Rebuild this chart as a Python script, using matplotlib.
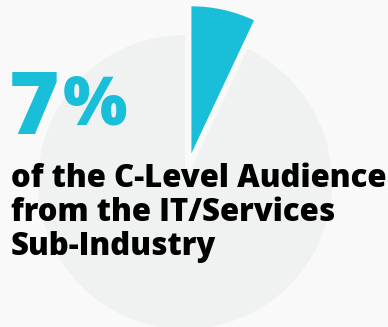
import matplotlib.pyplot as plt

# share of the C-level audience
share = [7, 93]
colors = ['#19bfd8', '#f0f2f2']
big_number = '7'
big_suffix = '%'
caption = ['of the C-Level Audience', 'from the IT/Services', 'Sub-Industry']

W, H = 388, 327
fig = plt.figure(figsize=(W / 100, H / 100), dpi=100, facecolor='#f9f9f9')
ax = fig.add_axes([0, 0, 1, 1])
ax.set_facecolor('#f9f9f9')

# unit-radius pie, the small slice pulled out towards the top
ax.pie(share, colors=colors, startangle=90, counterclock=False,
       explode=[0.2, 0], wedgeprops=dict(linewidth=0), frame=True)
r_px = 147.0
cx, cy = 185.0, 182.0  # pie centre in pixels from top-left
ax.set_xlim(-cx / r_px, (W - cx) / r_px)
ax.set_ylim(-(H - cy) / r_px, cy / r_px)
ax.set_aspect('equal')
ax.axis('off')


def px(x, y):
    return x / W, 1 - y / H


# big percentage, the sign sits a little higher than the digit
ax.text(*px(9, 134), big_number, transform=ax.transAxes, color=colors[0],
        fontsize=62, fontweight='heavy', family='Open Sans',
        va='baseline', ha='left')
ax.text(*px(63, 125), big_suffix, transform=ax.transAxes, color=colors[0],
        fontsize=49, fontweight='heavy', family='Open Sans',
        va='baseline', ha='left')

for i, line in enumerate(caption):
    ax.text(*px(11, 187 + i * 34), line, transform=ax.transAxes,
            color='black', fontsize=22.4, fontweight='heavy',
            family='Open Sans', va='baseline', ha='left')

fig.savefig('out.png', dpi=100, facecolor=fig.get_facecolor())
